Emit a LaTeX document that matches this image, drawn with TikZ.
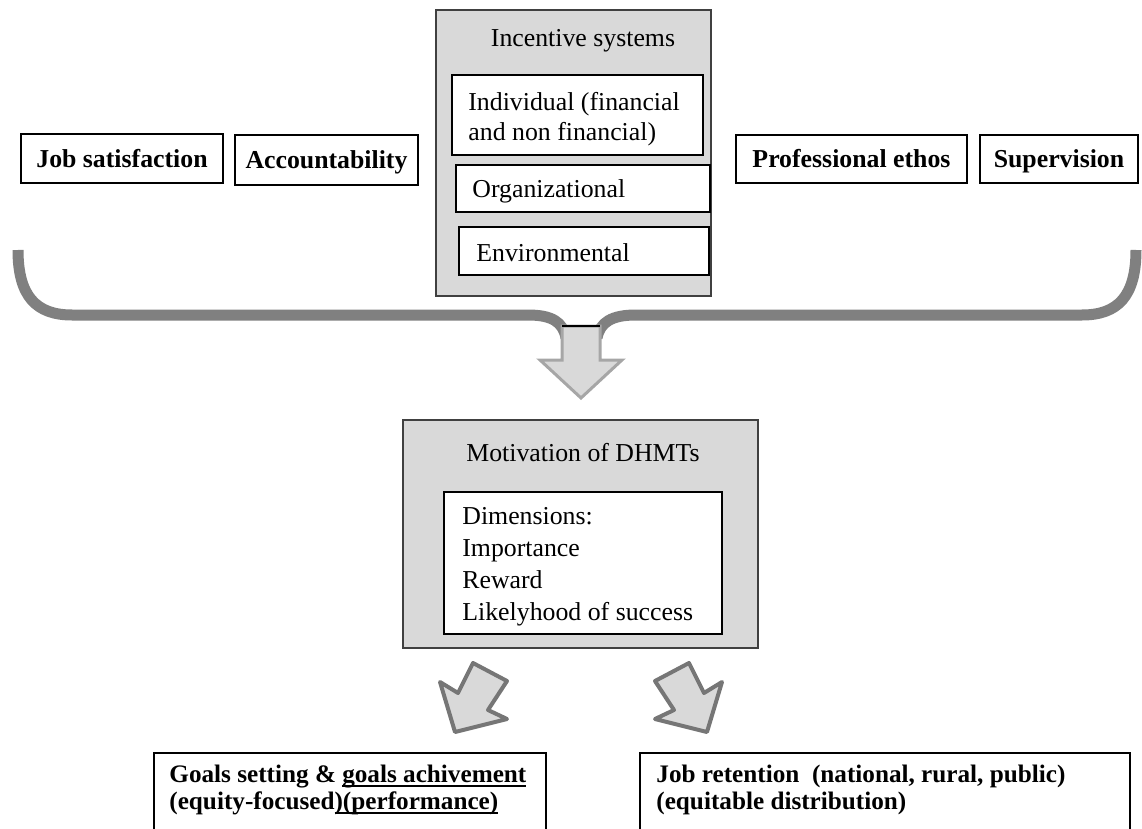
\documentclass[tikz,border=0pt]{standalone}
\usepackage{fontspec}
\setmainfont{Liberation Serif}
\newcommand{\myul}[1]{\setbox0\hbox{#1}\rlap{\rule[-2pt]{\wd0}{0.7pt}}\box0}
\definecolor{panelgray}{HTML}{D9D9D9}
\definecolor{bracegray}{HTML}{808080}
\definecolor{arrowedge}{HTML}{A6A6A6}
\definecolor{arrowedgedark}{HTML}{767676}
\begin{document}
\begin{tikzpicture}[x=0.5pt,y=-0.5pt,
  box/.style={draw=black, line width=1pt, fill=white, inner sep=0pt},
  panel/.style={draw=black!75, line width=0.6pt, fill=panelgray, inner sep=0pt},
  lbl/.style={font=\fontsize{12.9}{15}\selectfont, inner sep=0pt, align=left},
  blbl/.style={font=\fontsize{12.9}{14}\selectfont\bfseries, inner sep=0pt, align=left},
  botlbl/.style={font=\fontsize{12.6}{13.5}\selectfont\bfseries, inner sep=0pt, align=left},
  topbox/.style={box, blbl, text height=10.5pt, text depth=1.5pt},
  blockarrow/.style={fill=panelgray, draw=arrowedge, line width=1.5pt, line join=miter},
  slantarrow/.style={fill=panelgray, draw=arrowedgedark, line width=2pt, line join=round},
  bracestyle/.style={draw=bracegray, line width=5.5pt}
]
\useasboundingbox (0,0) rectangle (1142,829);
\clip (0,0) rectangle (1142,829);

% top row single boxes
\node[topbox, minimum width=101pt, minimum height=24.5pt] (js) at (122,158.5) {Job satisfaction};
\node[topbox, minimum width=91.5pt, minimum height=25pt] (acc) at (326.5,160) {Accountability};
\node[topbox, minimum width=115.5pt, minimum height=24pt] (pe) at (851.5,159) {Professional ethos};
\node[topbox, minimum width=79pt, minimum height=24pt] (sup) at (1059,159) {Supervision};

% incentive systems panel
\node[panel, minimum width=137.5pt, minimum height=143pt] (inc) at (573.5,153) {};
\node[lbl] (inctitle) at (583,41) {Incentive systems};
\node[box, minimum width=125.5pt, minimum height=40pt] (ind) at (577.5,115) {};
\node[lbl, anchor=west] (indtxt) at ([xshift=8.5pt,yshift=-2pt]ind.west) {Individual (financial\\and non financial)};
\node[box, minimum width=127pt, minimum height=23.5pt] (org) at (583,188.5) {};
\node[lbl, anchor=west] (orgtxt) at ([xshift=8.5pt,yshift=-1.5pt]org.west) {Organizational};
\node[box, minimum width=125pt, minimum height=24pt] (env) at (584,251) {};
\node[lbl, anchor=west] (envtxt) at ([xshift=9pt,yshift=-1pt]env.west) {Environmental};

% brace
\draw[bracestyle] (18,250) .. controls (18,296) and (36,315) .. (72,315) -- (528,315)
  .. controls (552,315) and (563,322) .. (566,338);
\draw[bracestyle] (1136,250) .. controls (1136,296) and (1118,315) .. (1082,315) -- (636,315)
  .. controls (612,315) and (600,322) .. (597,338);

% main down arrow
\draw[blockarrow] (562,326) -- (600,326) -- (600,360) -- (622,360) -- (581,398) -- (540,360) -- (562,360) -- cycle;
\draw[black, line width=0.6pt] (562,326) -- (600,326);

% motivation panel
\node[panel, minimum width=177.5pt, minimum height=114pt] (mot) at (580.5,534) {};
\node[lbl] (mottitle) at (583,453) {Motivation of DHMTs};
\node[box, minimum width=139pt, minimum height=71pt] (dim) at (583,563) {};
\node[lbl, font=\fontsize{12.9}{16}\selectfont, anchor=west] (dimtxt) at ([xshift=9.5pt,yshift=-2pt]dim.west)
  {Dimensions:\\Importance\\Reward\\Likelyhood of success};

% slanted arrows
\draw[slantarrow] (473,663) -- (507,681) -- (488,710) -- (507,719) -- (455,732) -- (440,682) -- (458,693) -- cycle;
\draw[slantarrow] (689,663) -- (655,681) -- (674,710) -- (655,719) -- (707,732) -- (722,682) -- (704,693) -- cycle;

% bottom boxes
\node[box, minimum width=196pt, minimum height=44pt] (goals) at (350,797) {};
\node[botlbl, anchor=west] (goalstxt) at ([xshift=8pt,yshift=3.5pt]goals.west)
  {Goals setting \& \myul{goals achivement}\\(equity-focused\myul{)(performance)}};
\node[box, minimum width=245pt, minimum height=44pt] (ret) at (885,797) {};
\node[botlbl, anchor=west] (rettxt) at ([xshift=8.5pt,yshift=3.5pt]ret.west)
  {Job retention\ \ (national, rural, public)\\(equitable distribution)};
\end{tikzpicture}
\end{document}
